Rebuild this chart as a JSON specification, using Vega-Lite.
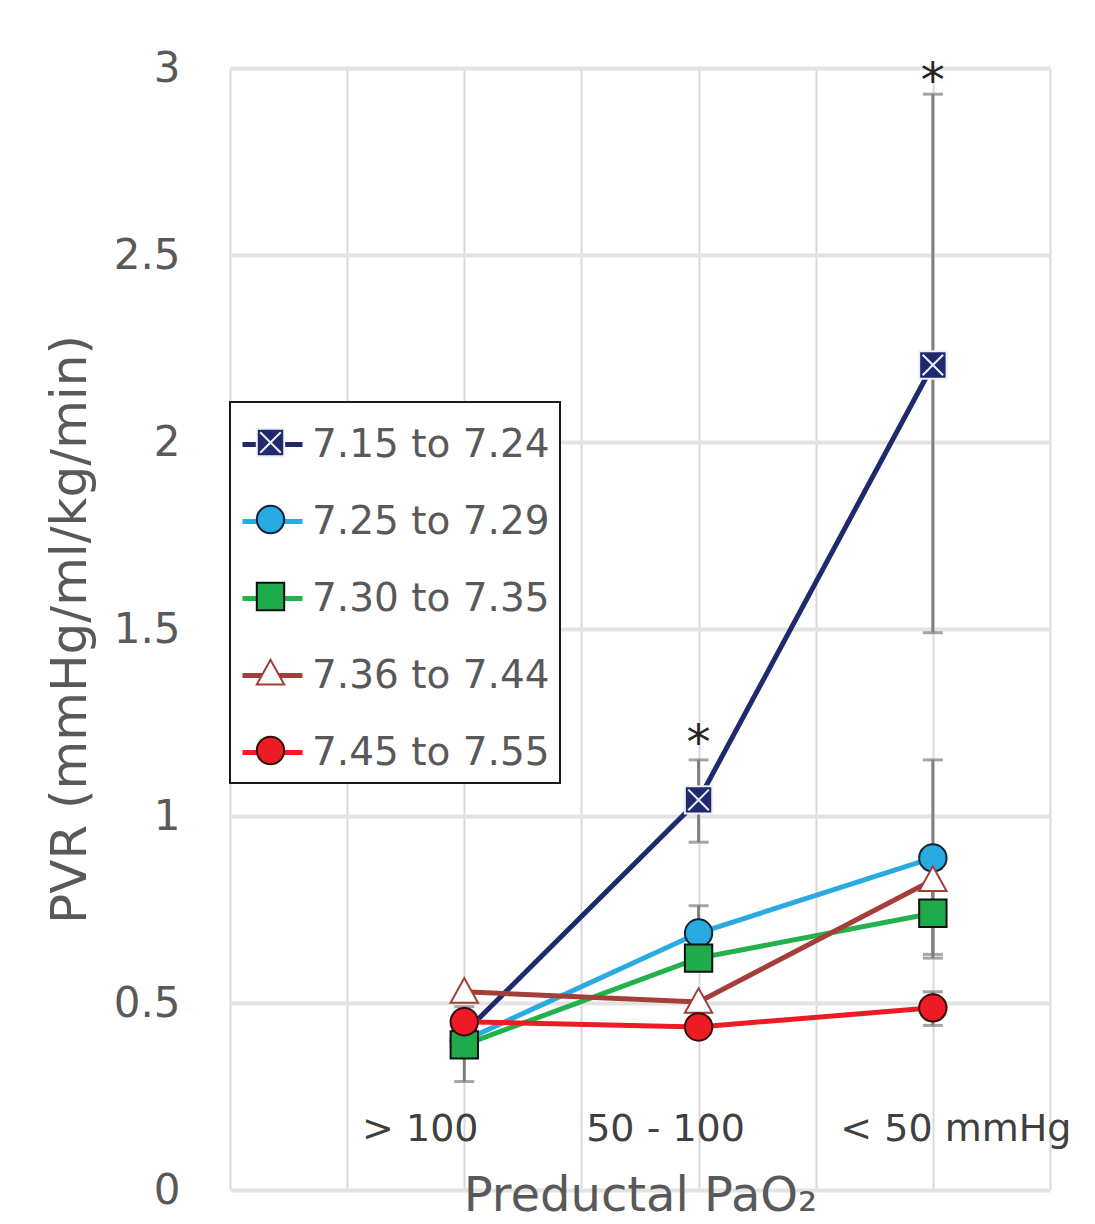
{
  "$schema": "https://vega.github.io/schema/vega-lite/v6.json",
  "width": 820,
  "height": 1122,
  "autosize": {"type": "none"},
  "padding": {"left": 230, "top": 68, "right": 45, "bottom": 34},
  "background": "white",
  "config": {
    "font": "DejaVu Sans",
    "view": {"stroke": null},
    "legend": {"strokeWidth": 2}
  },
  "datasets": {
    "pts": [
      {"series": "7.15 to 7.24", "cat": "> 100", "pvr": 0.42},
      {"series": "7.15 to 7.24", "cat": "50 - 100", "pvr": 1.043},
      {"series": "7.15 to 7.24", "cat": "< 50 mmHg", "pvr": 2.206},
      {"series": "7.25 to 7.29", "cat": "> 100", "pvr": 0.40},
      {"series": "7.25 to 7.29", "cat": "50 - 100", "pvr": 0.687},
      {"series": "7.25 to 7.29", "cat": "< 50 mmHg", "pvr": 0.888},
      {"series": "7.30 to 7.35", "cat": "> 100", "pvr": 0.388},
      {"series": "7.30 to 7.35", "cat": "50 - 100", "pvr": 0.62},
      {"series": "7.30 to 7.35", "cat": "< 50 mmHg", "pvr": 0.74},
      {"series": "7.36 to 7.44", "cat": "> 100", "pvr": 0.53},
      {"series": "7.36 to 7.44", "cat": "50 - 100", "pvr": 0.503},
      {"series": "7.36 to 7.44", "cat": "< 50 mmHg", "pvr": 0.829},
      {"series": "7.45 to 7.55", "cat": "> 100", "pvr": 0.45},
      {"series": "7.45 to 7.55", "cat": "50 - 100", "pvr": 0.436},
      {"series": "7.45 to 7.55", "cat": "< 50 mmHg", "pvr": 0.487}
    ],
    "err": [
      {"series": "7.15 to 7.24", "cat": "50 - 100", "lo": 0.93, "hi": 1.15},
      {"series": "7.15 to 7.24", "cat": "< 50 mmHg", "lo": 1.49, "hi": 2.93},
      {"series": "7.25 to 7.29", "cat": "50 - 100", "lo": 0.62, "hi": 0.76},
      {"series": "7.25 to 7.29", "cat": "< 50 mmHg", "lo": 0.63, "hi": 1.15},
      {"series": "7.30 to 7.35", "cat": "> 100", "lo": 0.29, "hi": 0.49},
      {"series": "7.30 to 7.35", "cat": "< 50 mmHg", "lo": 0.62, "hi": 0.86},
      {"series": "7.45 to 7.55", "cat": "< 50 mmHg", "lo": 0.44, "hi": 0.53}
    ],
    "stars": [
      {"cat": "50 - 100", "pos": 1.19, "label": "*"},
      {"cat": "< 50 mmHg", "pos": 2.96, "label": "*"}
    ]
  },
  "layer": [
    {
      "data": {"name": "err"},
      "mark": {"type": "rule", "color": "#7f7f7f", "strokeWidth": 3},
      "encoding": {
        "x": {
          "field": "cat", "type": "nominal",
          "scale": {"type": "point", "padding": 0, "domain": ["a0", "a1", "> 100", "a3", "50 - 100", "a5", "< 50 mmHg", "a7"]},
          "axis": {
            "labels": false, "ticks": false, "domain": false, "grid": true,
            "gridColor": "#d9d9d9", "gridWidth": 2,
            "title": "Preductal PaO₂", "titleFontSize": 48, "titleColor": "#595959",
            "titleFontWeight": "normal", "titleY": 20, "titleBaseline": "alphabetic"
          }
        },
        "y": {
          "field": "lo", "type": "quantitative",
          "scale": {"domain": [0, 3], "nice": false, "zero": true},
          "axis": {
            "values": [0, 0.5, 1, 1.5, 2, 2.5, 3], "format": "~g",
            "labelFontSize": 42, "labelColor": "#595959", "labelPadding": 50,
            "ticks": false, "domain": false, "grid": true,
            "gridColor": "#e3e3e3", "gridWidth": 4,
            "title": "PVR (mmHg/ml/kg/min)", "titleFontSize": 50, "titleColor": "#595959",
            "titleFontWeight": "normal", "titleX": -160, "titleBaseline": "middle"
          }
        },
        "y2": {"field": "hi"}
      }
    },
    {
      "data": {"name": "err"},
      "mark": {"type": "tick", "color": "#7f7f7f", "thickness": 3, "size": 20},
      "encoding": {
        "x": {"field": "cat", "type": "nominal"},
        "y": {"field": "lo", "type": "quantitative"}
      }
    },
    {
      "data": {"name": "err"},
      "mark": {"type": "tick", "color": "#7f7f7f", "thickness": 3, "size": 20},
      "encoding": {
        "x": {"field": "cat", "type": "nominal"},
        "y": {"field": "hi", "type": "quantitative"}
      }
    },
    {
      "data": {"name": "pts"},
      "mark": {"type": "line", "strokeWidth": 5},
      "encoding": {
        "x": {"field": "cat", "type": "nominal"},
        "y": {"field": "pvr", "type": "quantitative"},
        "color": {
          "field": "series", "type": "nominal",
          "scale": {"range": ["#1f2a6e", "#29abe2", "#22b14c", "#a33f38", "#ed1c24"]},
          "legend": {
            "orient": "none", "legendX": 0, "legendY": 334, "title": null,
            "symbolType": "stroke", "symbolSize": 3600, "symbolStrokeWidth": 5,
            "labelFontSize": 39, "labelColor": "#595959", "labelOffset": 7, "labelLimit": 500,
            "padding": 10, "strokeColor": "#1a1a1a", "fillColor": "white",
            "rowPadding": 24
          }
        }
      }
    },
    {
      "data": {"name": "pts"},
      "mark": {"type": "point", "filled": true, "opacity": 1, "size": 750, "strokeWidth": 2},
      "encoding": {
        "x": {"field": "cat", "type": "nominal"},
        "y": {"field": "pvr", "type": "quantitative"},
        "fill": {
          "field": "series", "type": "nominal",
          "scale": {"domain": ["7.15 to 7.24", "7.25 to 7.29", "7.30 to 7.35", "7.36 to 7.44", "7.45 to 7.55"],
                    "range": ["#1f2a6e", "#29abe2", "#1faa4b", "#ffffff", "#ed1c24"]},
          "legend": {
            "orient": "none", "legendX": 8, "legendY": 342, "title": null,
            "symbolSize": 750, "symbolStrokeWidth": 2,
            "labelFontSize": 39, "labelExpr": "''", "labelOffset": 5,
            "padding": 13, "rowPadding": 37
          }
        },
        "stroke": {
          "field": "series", "type": "nominal",
          "scale": {"domain": ["7.15 to 7.24", "7.25 to 7.29", "7.30 to 7.35", "7.36 to 7.44", "7.45 to 7.55"],
                    "range": ["#eef0f8", "#10233a", "#111111", "#a33f38", "#3a0a0a"]},
          "legend": {
            "orient": "none", "legendX": 8, "legendY": 342, "title": null,
            "symbolSize": 750, "symbolStrokeWidth": 2,
            "labelFontSize": 39, "labelExpr": "''", "labelOffset": 5,
            "padding": 13, "rowPadding": 37
          }
        },
        "shape": {
          "field": "series", "type": "nominal",
          "scale": {"domain": ["7.15 to 7.24", "7.25 to 7.29", "7.30 to 7.35", "7.36 to 7.44", "7.45 to 7.55"],
                    "range": ["M-1,-1H1V1H-1ZM-0.75,-0.75L0.75,0.75M-0.75,0.75L0.75,-0.75", "circle", "square", "M0,-1L1,0.8H-1Z", "circle"]},
          "legend": {
            "orient": "none", "legendX": 8, "legendY": 342, "title": null,
            "symbolSize": 750, "symbolStrokeWidth": 2,
            "labelFontSize": 39, "labelExpr": "''", "labelOffset": 5,
            "padding": 13, "rowPadding": 37
          }
        }
      }
    },
    {
      "data": {"name": "stars"},
      "mark": {"type": "text", "fontSize": 48, "color": "#262626", "baseline": "middle"},
      "encoding": {
        "x": {"field": "cat", "type": "nominal"},
        "y": {"field": "pos", "type": "quantitative"},
        "text": {"field": "label"}
      }
    },
    {
      "data": {"values": [{"cat": "> 100"}]},
      "mark": {"type": "text", "fontSize": 38, "color": "#404040", "baseline": "middle", "dx": -44},
      "encoding": {"x": {"field": "cat", "type": "nominal"}, "y": {"datum": 0.16}, "text": {"field": "cat"}}
    },
    {
      "data": {"values": [{"cat": "50 - 100"}]},
      "mark": {"type": "text", "fontSize": 38, "color": "#404040", "baseline": "middle", "dx": -33},
      "encoding": {"x": {"field": "cat", "type": "nominal"}, "y": {"datum": 0.16}, "text": {"field": "cat"}}
    },
    {
      "data": {"values": [{"cat": "< 50 mmHg"}]},
      "mark": {"type": "text", "fontSize": 38, "color": "#404040", "baseline": "middle", "dx": 23},
      "encoding": {"x": {"field": "cat", "type": "nominal"}, "y": {"datum": 0.16}, "text": {"field": "cat"}}
    }
  ]
}
